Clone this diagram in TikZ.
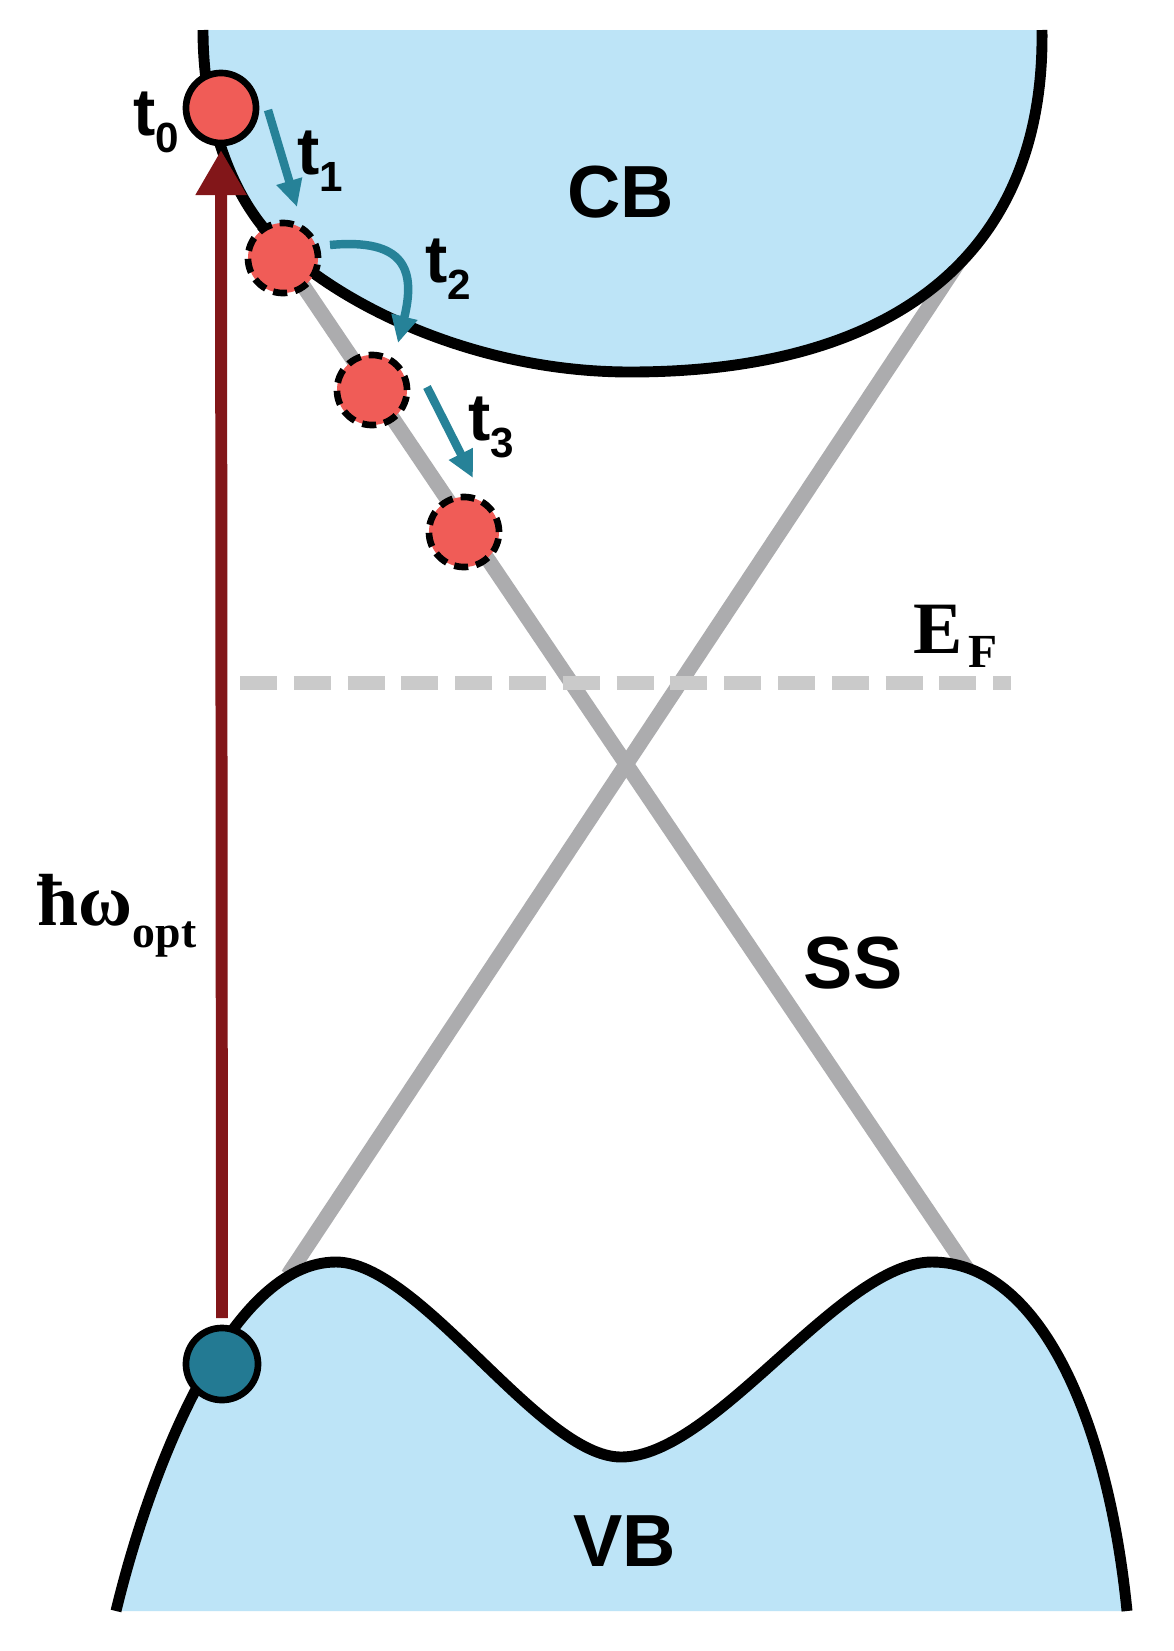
\documentclass[tikz,border=0pt]{standalone}
\usepackage{fontspec}
\setmainfont{Liberation Serif}
\setsansfont{Liberation Sans}
\usetikzlibrary{arrows.meta,calc,positioning}

\definecolor{bandblue}{RGB}{189,228,247}
\definecolor{elecred}{RGB}{240,92,87}
\definecolor{holeteal}{RGB}{35,122,147}
\definecolor{hopteal}{RGB}{38,130,152}
\definecolor{pumpred}{RGB}{130,22,25}
\definecolor{ssgrey}{RGB}{172,172,174}
\definecolor{efgrey}{RGB}{202,202,202}

\newcommand{\tsub}[1]{t\raisebox{-5pt}{\fontsize{12}{12}\selectfont #1}}
% band edges, picture in pixel units
\newcommand{\cbedge}{(203,30) .. controls (203,120) and (232,194) .. (270,235) .. controls (330,300) and (470,372) .. (630,372) .. controls (900,372) and (1045,250) .. (1042,30)}
\newcommand{\vbedge}{(116,1611) .. controls (150,1470) and (230,1262) .. (336,1262) .. controls (420,1262) and (540,1457) .. (621,1457) .. controls (715,1457) and (840,1262) .. (932,1262) .. controls (1040,1262) and (1108,1420) .. (1127,1611)}

\begin{document}
\begin{tikzpicture}[x=0.01cm, y=-0.01cm,
    band/.style={fill=bandblue},
    bandline/.style={draw=black, line width=3.1pt, line join=round},
    ss/.style={draw=ssgrey, line width=4.3pt},
    fermi/.style={draw=efgrey, line width=3.9pt, dash pattern=on 10.5pt off 4.8pt},
    elec/.style={circle, minimum size=0.7cm, inner sep=0pt, fill=elecred, draw=black, line width=1.9pt},
    hotelec/.style={elec, dash pattern=on 4pt off 2.3pt},
    hole/.style={circle, minimum size=0.72cm, inner sep=0pt, fill=holeteal, draw=black, line width=1.9pt},
    pump/.style={draw=pumpred, line width=3.4pt, -{Triangle[length=0.45cm,width=0.48cm]}},
    hop/.style={draw=hopteal, line width=2.4pt, -{Triangle[length=0.27cm,width=0.25cm]}},
    bandlab/.style={font=\sffamily\bfseries\fontsize{21}{21}\selectfont, inner sep=0pt, anchor=base},
    tlab/.style={font=\sffamily\bfseries\fontsize{19}{19}\selectfont, inner sep=0pt, anchor=base west},
    serlab/.style={font=\rmfamily\bfseries\fontsize{21}{21}\selectfont, inner sep=0pt, anchor=base west}]
    \fill[white] (0,0) rectangle (1174,1651);
    \useasboundingbox (0,0) rectangle (1174,1651);

    % surface state cone and Fermi level
    \draw[ss] (283,256) -- (978,1285);
    \draw[ss] (288,1275) -- (964,254);
    \draw[fermi] (240,683) -- (1011,683);

    % bands
    \fill[band] \cbedge -- cycle;
    \draw[bandline] \cbedge;
    \fill[band] \vbedge -- cycle;
    \draw[bandline] \vbedge;

    \node[bandlab] (cb) at (621,217) {CB};
    \node[bandlab] (vb) at (625,1566) {VB};
    \node[bandlab] (ss) at (853,988) {SS};
    \node[serlab] (ef) at (913,653) {E\hspace{1.5pt}\raisebox{-4pt}{\fontsize{13.5}{13.5}\selectfont F}};
    \node[serlab] (hw) at (37,925) {ħω\raisebox{-6.5pt}{\fontsize{13}{13}\selectfont opt}};

    % carriers
    \node[hole] (h) at (222,1364) {};
    \node[elec] (e0) at (221,108) {};
    \node[hotelec] (e1) at (283,258) {};
    \node[hotelec] (e2) at (372,390) {};
    \node[hotelec] (e3) at (464,532) {};

    \node[tlab] (lt0) at (133,135) {\tsub{0}};
    \node[tlab] (lt1) at (297,174) {\tsub{1}};
    \node[tlab] (lt2) at (425,282) {\tsub{2}};
    \node[tlab] (lt3) at (468,440) {\tsub{3}};

    \draw[pump] ($(h)+(0,-46)$) -- ($(e0)+(0,42)$);
    \draw[hop] ($(e0)+(47,2)$) -- ($(e1)+(14,-51)$);
    \draw[hop] ($(e1)+(47,-13)$) .. controls ($(e1)+(122,-20)$) and ($(e2)+(44,-120)$) .. ($(e2)+(26,-47)$);
    \draw[hop] ($(e2)+(55,-3)$) -- ($(e3)+(9,-54)$);
\end{tikzpicture}
\end{document}
